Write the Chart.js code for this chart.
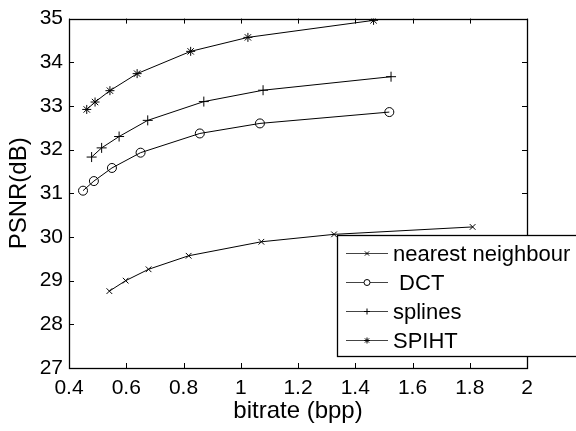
<!DOCTYPE html>
<html>
<head>
<meta charset="utf-8">
<script src="https://cdn.jsdelivr.net/npm/chart.js@4"></script>
<style>
  html, body { margin: 0; padding: 0; background: #fff; }
  #wrap { width: 576px; height: 431px; }
</style>
</head>
<body>
<div id="wrap"><canvas id="psnrChart" width="576" height="431"></canvas></div>
<script>
// bitrate (bpp) / PSNR (dB)
const nnRate = [0.541, 0.598, 0.678, 0.818, 1.072, 1.326, 1.810];
const nnPsnr = [28.76, 29.00, 29.26, 29.57, 29.89, 30.06, 30.23];
const dctRate = [0.449, 0.487, 0.550, 0.650, 0.857, 1.067, 1.519];
const dctPsnr = [31.06, 31.28, 31.58, 31.93, 32.37, 32.60, 32.86];
const splRate = [0.479, 0.514, 0.575, 0.675, 0.871, 1.078, 1.525];
const splPsnr = [31.83, 32.04, 32.30, 32.67, 33.10, 33.36, 33.67];
const spihtRate = [0.462, 0.491, 0.543, 0.638, 0.825, 1.025, 1.464];
const spihtPsnr = [32.92, 33.09, 33.35, 33.74, 34.25, 34.57, 34.96];

const seriesNames = ['nearest neighbour', ' DCT', 'splines', 'SPIHT'];
const xTicks = [0.4, 0.6, 0.8, 1.0, 1.2, 1.4, 1.6, 1.8, 2.0];
const yTicks = [27, 28, 29, 30, 31, 32, 33, 34, 35];

const FONT = '"Liberation Sans", Arial, sans-serif';

const toPoints = (xs, ys) => xs.map((x, i) => ({ x: x, y: ys[i] }));

function makeSet(label, xs, ys, style, radius) {
    return {
        label: label,
        data: toPoints(xs, ys),
        borderColor: '#000',
        backgroundColor: 'rgba(0,0,0,0)',
        borderWidth: 1,
        pointStyle: style,
        pointRadius: radius,
        pointBorderWidth: 1,
        pointBorderColor: '#000',
        pointBackgroundColor: 'rgba(0,0,0,0)',
        tension: 0,
        fill: false,
        showLine: true
    };
}

// box round the plot with inward ticks on all four sides (matlab look)
const frameTicks = {
    id: 'frameTicks',
    afterDatasetsDraw(chart) {
        const { ctx, chartArea: a, scales } = chart;
        const len = 5;
        ctx.save();
        ctx.strokeStyle = '#000';
        ctx.lineWidth = 1;
        ctx.beginPath();
        scales.x.ticks.forEach(t => {
            const px = Math.round(scales.x.getPixelForValue(t.value)) + 0.5;
            ctx.moveTo(px, a.bottom); ctx.lineTo(px, a.bottom - len);
            ctx.moveTo(px, a.top); ctx.lineTo(px, a.top + len);
        });
        scales.y.ticks.forEach(t => {
            const py = Math.round(scales.y.getPixelForValue(t.value)) + 0.5;
            ctx.moveTo(a.left, py); ctx.lineTo(a.left + len, py);
            ctx.moveTo(a.right, py); ctx.lineTo(a.right - len, py);
        });
        ctx.stroke();
        ctx.lineWidth = 1.3;
        ctx.strokeRect(Math.round(a.left) + 0.5, Math.round(a.top) + 0.5,
            Math.round(a.right - a.left), Math.round(a.bottom - a.top));
        ctx.restore();
    }
};

// legend box sitting inside the axes, lower right
const boxLegend = {
    id: 'boxLegend',
    afterDraw(chart) {
        const ctx = chart.ctx;
        const bx = 337, by = 235, bw = 270, bh = 121;
        const rowY = 252.5, rowStep = 29.3;
        ctx.save();
        ctx.fillStyle = '#fff';
        ctx.fillRect(bx, by, bw, bh);
        ctx.strokeStyle = '#000';
        ctx.lineWidth = 1.3;
        ctx.strokeRect(bx + 0.5, by + 0.5, bw, bh);
        ctx.font = '22px ' + FONT;
        ctx.textBaseline = 'middle';
        chart.data.datasets.forEach((ds, i) => {
            const y = Math.round(rowY + i * rowStep) + 0.5;
            ctx.strokeStyle = '#444';
            ctx.lineWidth = 1;
            ctx.beginPath();
            ctx.moveTo(346, y); ctx.lineTo(388, y);
            ctx.stroke();
            ctx.strokeStyle = '#000';
            ctx.fillStyle = '#fff';
            Chart.helpers.drawPoint(ctx, {
                pointStyle: ds.pointStyle, radius: 3, rotation: 0, borderWidth: 1
            }, 367, y);
            ctx.fillStyle = '#000';
            ctx.fillText(ds.label, 393, y + 1);
        });
        ctx.restore();
    }
};

const psnrCtx = document.getElementById('psnrChart').getContext('2d');
new Chart(psnrCtx, {
    type: 'scatter',
    data: {
        datasets: [
            makeSet(seriesNames[0], nnRate, nnPsnr, 'crossRot', 4),
            makeSet(seriesNames[1], dctRate, dctPsnr, 'circle', 4.5),
            makeSet(seriesNames[2], splRate, splPsnr, 'cross', 5),
            makeSet(seriesNames[3], spihtRate, spihtPsnr, 'star', 4.5)
        ]
    },
    options: {
        responsive: false,
        animation: false,
        layout: { padding: { left: 0, top: 15, right: 49, bottom: 0 } },
        plugins: {
            legend: { display: false },
            tooltip: { enabled: false }
        },
        scales: {
            x: {
                type: 'linear',
                min: xTicks[0],
                max: xTicks[xTicks.length - 1],
                afterBuildTicks: s => { s.ticks = xTicks.map(v => ({ value: v })); },
                afterFit: s => { s.height = 63; },
                grid: { display: false, drawTicks: false },
                border: { display: false },
                ticks: {
                    color: '#000',
                    padding: 8,
                    maxRotation: 0,
                    font: { family: FONT, size: 21 },
                    callback: v => String(Math.round(v * 10) / 10)
                },
                title: {
                    display: true,
                    text: 'bitrate (bpp)',
                    color: '#000',
                    padding: { top: 0, bottom: 5 },
                    font: { family: FONT, size: 24 }
                }
            },
            y: {
                type: 'linear',
                min: yTicks[0],
                max: yTicks[yTicks.length - 1],
                afterBuildTicks: s => { s.ticks = yTicks.map(v => ({ value: v })); },
                afterFit: s => { s.width = 69; },
                grid: { display: false, drawTicks: false },
                border: { display: false },
                ticks: {
                    color: '#000',
                    padding: 6,
                    font: { family: FONT, size: 21 }
                },
                title: {
                    display: true,
                    text: 'PSNR(dB)',
                    color: '#000',
                    padding: { top: 5, bottom: 0 },
                    font: { family: FONT, size: 24 }
                }
            }
        }
    },
    plugins: [frameTicks, boxLegend]
});
</script>
</body>
</html>
